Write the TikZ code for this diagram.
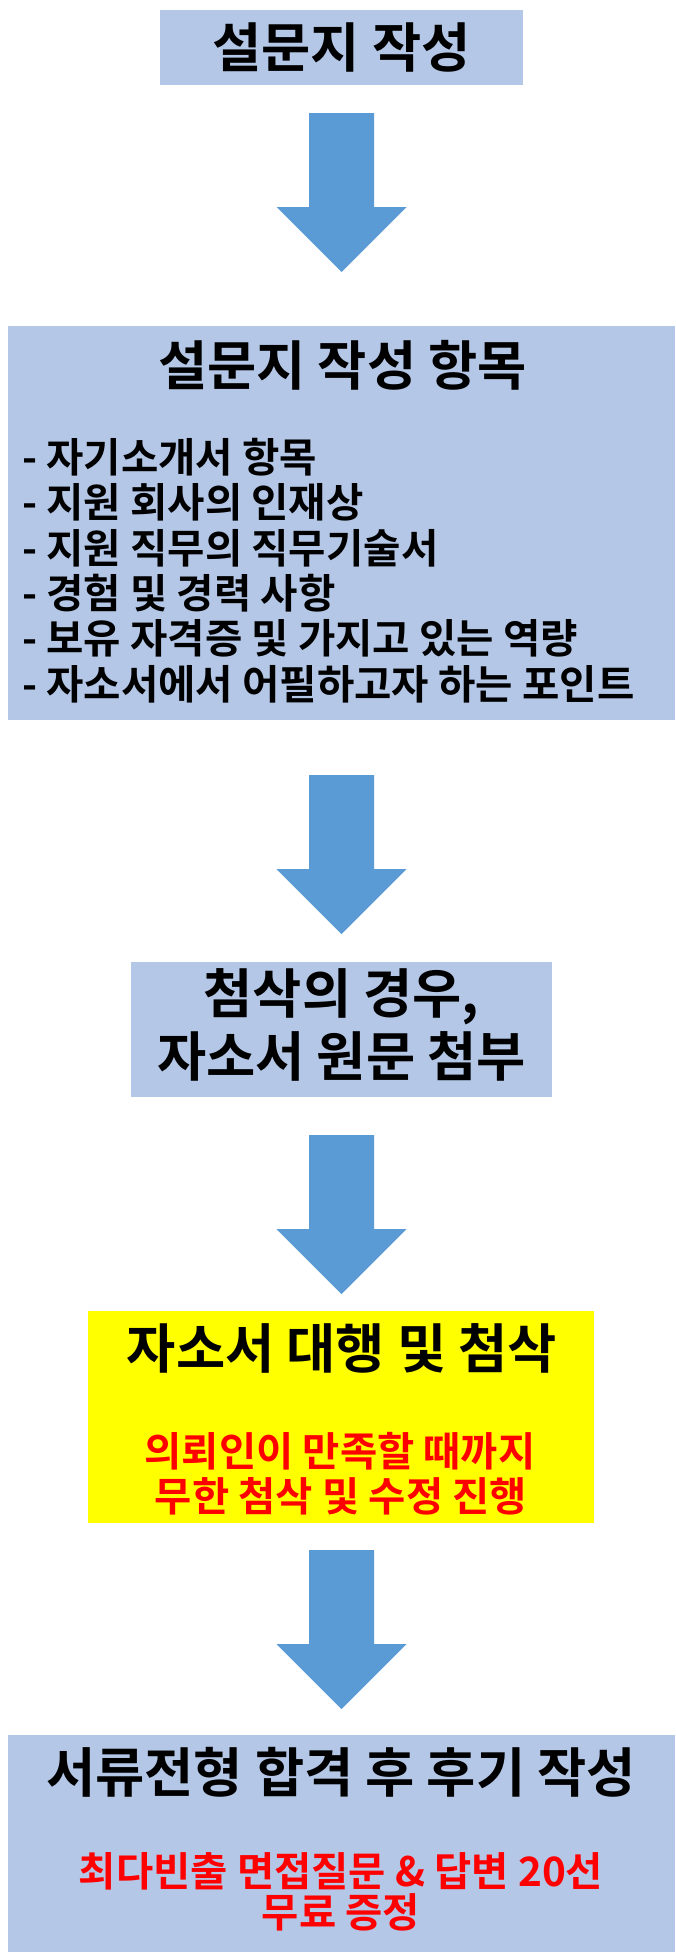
\documentclass[tikz,border=0pt]{standalone}
\usepackage{fontspec}
\setmainfont{Noto Sans CJK KR}[BoldFont={Noto Sans CJK KR Bold}]
\definecolor{boxblue}{HTML}{B4C7E7}
\definecolor{arrowblue}{HTML}{5B9BD5}
\definecolor{boxyellow}{HTML}{FFFF00}
\definecolor{txtred}{HTML}{FF0000}
\begin{document}
\begin{tikzpicture}[x=1pt,y=-1pt,
  panel/.style={fill=#1,draw=none,inner sep=0pt,outer sep=0pt},
  bigtxt/.style={inner sep=0pt,font=\fontsize{53.5}{53.5}\selectfont\bfseries},
  listtxt/.style={inner sep=0pt,anchor=west,font=\fontsize{40.6}{40.6}\selectfont\bfseries},
  redtxt/.style={inner sep=0pt,text=txtred,font=\fontsize{40.5}{40.5}\selectfont\bfseries},
  blockarrow/.style={fill=arrowblue,draw=none}]
\useasboundingbox (0,0) rectangle (675,1959);
\fill[white] (0,0) rectangle (675,1959);
% boxes
\path[panel=boxblue] (160,10) rectangle (523,85);
\path[panel=boxblue] (7.5,326) rectangle (675,720);
\path[panel=boxblue] (131,962) rectangle (552,1097);
\path[panel=boxyellow] (88,1311) rectangle (594,1523);
\path[panel=boxblue] (7.5,1735) rectangle (675,1952);
% texts
\node[bigtxt] (t1) at (341.5,47) {설문지 작성};
\node[bigtxt] (t2) at (342.5,365) {설문지 작성 항목};
\node[listtxt] (l1) at (22,457) {- 자기소개서 항목};
\node[listtxt] (l2) at (22,502.4) {- 지원 회사의 인재상};
\node[listtxt] (l3) at (22,547.8) {- 지원 직무의 직무기술서};
\node[listtxt] (l4) at (22,593.2) {- 경험 및 경력 사항};
\node[listtxt] (l5) at (22,638.6) {- 보유 자격증 및 가지고 있는 역량};
\node[listtxt] (l6) at (22,684) {- 자소서에서 어필하고자 하는 포인트};
\node[bigtxt] (t3a) at (341.5,997) {첨삭의 경우,};
\node[bigtxt] (t3b) at (341.5,1056) {자소서 원문 첨부};
\node[bigtxt] (t4) at (342,1348) {자소서 대행 및 첨삭};
\node[redtxt] (r4a) at (340,1451) {의뢰인이 만족할 때까지};
\node[redtxt] (r4b) at (341,1496) {무한 첨삭 및 수정 진행};
\node[bigtxt] (t5) at (341,1772) {서류전형 합격 후 후기 작성};
\node[redtxt] (r5a) at (341,1871) {최다빈출 면접질문 \& 답변 20선};
\node[redtxt] (r5b) at (341,1912) {무료 증정};
% arrows
\coordinate (a1) at (341.5,113);
\coordinate (a2) at (341.5,775);
\coordinate (a3) at (341.5,1135);
\coordinate (a4) at (341.5,1550);
\foreach \a in {a1,a2,a3,a4}{
  \fill[blockarrow] (\a) ++(-32.5,0) -- ++(65,0) -- ++(0,94) -- ++(32.5,0)
    -- ++(-65,65) -- ++(-65,-65) -- ++(32.5,0) -- cycle;
}
\end{tikzpicture}
\end{document}
